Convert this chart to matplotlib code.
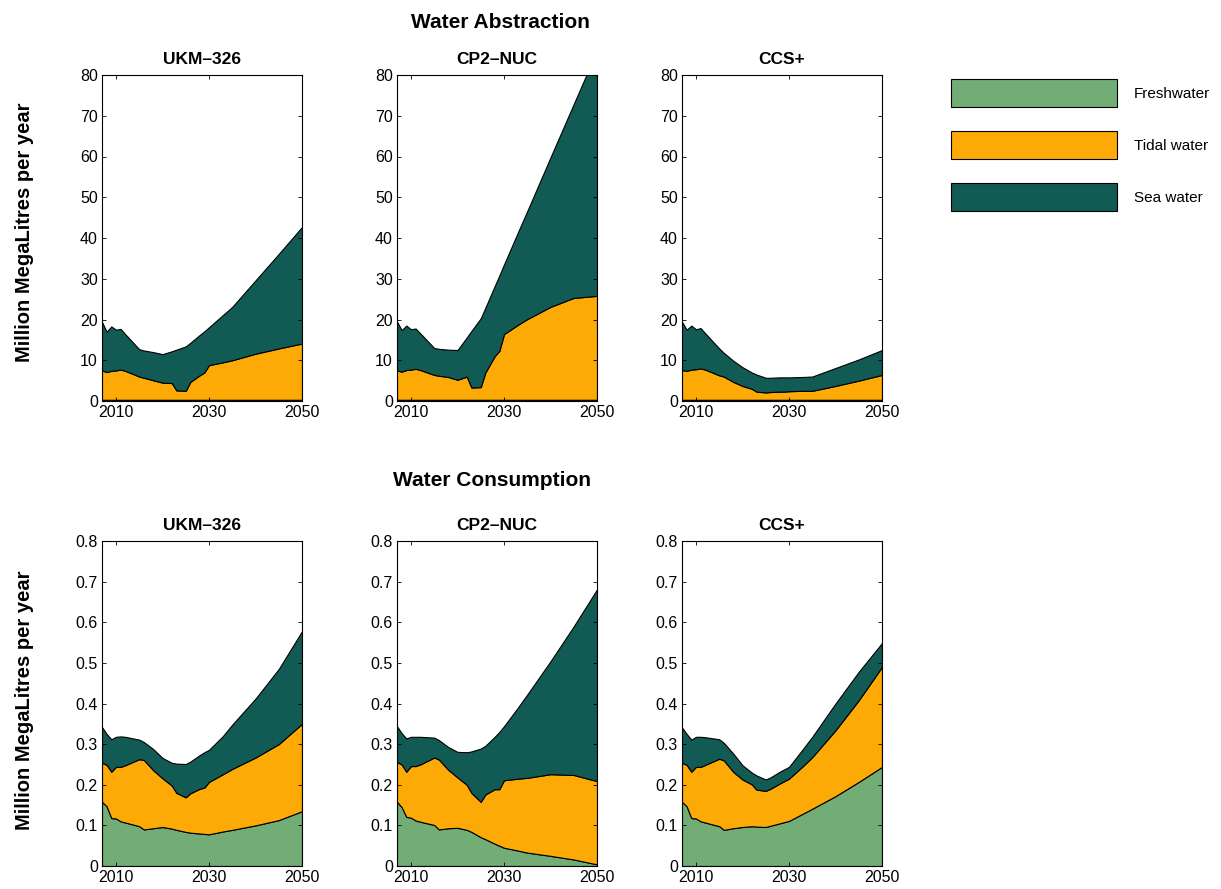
import numpy as np
import matplotlib
matplotlib.use("Agg")
import matplotlib.pyplot as plt

plt.rcParams['font.family'] = ['Liberation Sans', 'DejaVu Sans']

years = [2007, 2008, 2009, 2010, 2011, 2012, 2015, 2016, 2018, 2020, 2022,
         2023, 2025, 2026, 2028, 2029, 2030, 2033, 2035, 2040, 2045, 2050]

scenarios = ['UKM\u2013326', 'CP2\u2013NUC', 'CCS+']
layer_names = ['Freshwater', 'Tidal water', 'Sea water']
colors = ['#71ad74', '#fdaa07', '#125a54']

# abstraction: upper edge of each stacked layer (cumulative)
abs_fresh_top = {
    'UKM\u2013326': [0.3] * 22,
    'CP2\u2013NUC': [0.3] * 22,
    'CCS+': [0.3] * 22,
}
abs_tidal_top = {
    'UKM\u2013326': [7.5, 7.1, 7.4, 7.5, 7.7, 7.4, 6.0, 5.7, 5.1, 4.5, 4.4,
                     2.6, 2.5, 4.7, 6.3, 7.0, 8.8, 9.5, 10.0, 11.6, 12.9, 14.1],
    'CP2\u2013NUC': [7.5, 7.2, 7.6, 7.7, 7.9, 7.6, 6.4, 6.2, 5.9, 5.2, 6.0,
                     3.3, 3.4, 7.0, 11.0, 12.3, 16.4, 18.7, 20.1, 23.1, 25.3, 25.8],
    'CCS+': [7.6, 7.4, 7.7, 7.8, 8.0, 7.7, 6.3, 6.0, 4.7, 3.7, 3.0,
             2.3, 2.1, 2.2, 2.3, 2.3, 2.4, 2.5, 2.5, 3.7, 5.0, 6.4],
}
abs_sea_top = {
    'UKM\u2013326': [19.4, 17.0, 18.3, 17.5, 17.7, 16.4, 12.7, 12.4, 12.0, 11.5, 12.2,
                     12.6, 13.4, 14.3, 16.2, 17.1, 18.1, 21.1, 23.1, 29.6, 36.1, 42.7],
    'CP2\u2013NUC': [19.5, 17.4, 18.5, 17.6, 17.8, 16.6, 13.0, 12.8, 12.6, 12.5, 15.6,
                     17.2, 20.3, 22.9, 28.2, 30.8, 33.5, 41.4, 46.6, 59.8, 72.9, 86.0],
    'CCS+': [19.4, 17.5, 18.5, 17.6, 17.9, 16.6, 12.9, 11.8, 9.9, 8.3, 7.0,
             6.5, 5.7, 5.7, 5.8, 5.8, 5.8, 5.9, 6.0, 8.1, 10.2, 12.5],
}

# consumption: upper edge of each stacked layer (cumulative)
con_fresh_top = {
    'UKM\u2013326': [0.158, 0.147, 0.118, 0.117, 0.110, 0.107, 0.098, 0.090, 0.093, 0.096, 0.092,
                     0.089, 0.084, 0.082, 0.080, 0.079, 0.078, 0.085, 0.089, 0.100, 0.113, 0.135],
    'CP2\u2013NUC': [0.158, 0.145, 0.121, 0.119, 0.112, 0.109, 0.101, 0.090, 0.093, 0.094, 0.089,
                     0.084, 0.071, 0.066, 0.055, 0.050, 0.045, 0.038, 0.033, 0.025, 0.016, 0.004],
    'CCS+': [0.158, 0.147, 0.118, 0.117, 0.110, 0.107, 0.098, 0.089, 0.093, 0.096, 0.098,
             0.097, 0.096, 0.099, 0.105, 0.108, 0.111, 0.129, 0.141, 0.172, 0.207, 0.244],
}
con_tidal_top = {
    'UKM\u2013326': [0.254, 0.249, 0.232, 0.244, 0.244, 0.248, 0.263, 0.261, 0.236, 0.216, 0.198,
                     0.180, 0.169, 0.179, 0.190, 0.193, 0.207, 0.226, 0.239, 0.267, 0.300, 0.350],
    'CP2\u2013NUC': [0.256, 0.250, 0.232, 0.246, 0.246, 0.250, 0.267, 0.262, 0.237, 0.218, 0.200,
                     0.180, 0.158, 0.176, 0.189, 0.189, 0.211, 0.215, 0.217, 0.226, 0.224, 0.209],
    'CCS+': [0.254, 0.249, 0.232, 0.244, 0.244, 0.249, 0.264, 0.260, 0.232, 0.213, 0.201,
             0.188, 0.185, 0.190, 0.203, 0.209, 0.215, 0.246, 0.268, 0.334, 0.408, 0.490],
}
con_sea_top = {
    'UKM\u2013326': [0.342, 0.325, 0.312, 0.318, 0.319, 0.318, 0.311, 0.305, 0.288, 0.266, 0.254,
                     0.252, 0.251, 0.257, 0.273, 0.280, 0.286, 0.320, 0.348, 0.412, 0.485, 0.578],
    'CP2\u2013NUC': [0.344, 0.327, 0.314, 0.318, 0.318, 0.318, 0.316, 0.310, 0.293, 0.281, 0.280,
                     0.282, 0.289, 0.296, 0.318, 0.330, 0.344, 0.390, 0.422, 0.504, 0.590, 0.681],
    'CCS+': [0.341, 0.325, 0.311, 0.318, 0.318, 0.317, 0.312, 0.303, 0.277, 0.248, 0.230,
             0.223, 0.213, 0.218, 0.232, 0.238, 0.244, 0.288, 0.318, 0.400, 0.478, 0.549],
}

W, H = 1221, 889
fig = plt.figure(figsize=(W / 100, H / 100), dpi=100)

col_left = [102, 397, 682]
ax_w = 200


def make_ax(left, top, bottom):
    return fig.add_axes([left / W, 1 - bottom / H, ax_w / W, (bottom - top) / H])


handles = None
for row, (tops, ymax, yticks, top_px, bot_px) in enumerate([
        ((abs_fresh_top, abs_tidal_top, abs_sea_top), 80, np.arange(0, 81, 10), 75, 401),
        ((con_fresh_top, con_tidal_top, con_sea_top), 0.8, np.arange(0, 0.81, 0.1), 541, 866)]):
    for c, sc in enumerate(scenarios):
        ax = make_ax(col_left[c], top_px, bot_px)
        lower = np.zeros(len(years))
        hs = []
        for k in range(3):
            upper = np.array(tops[k][sc])
            h = ax.fill_between(years, lower, upper, facecolor=colors[k],
                                edgecolor='black', linewidth=0.8, label=layer_names[k])
            hs.append(h)
            lower = upper
        handles = hs
        ax.set_xlim(2007, 2050)
        ax.set_ylim(0, ymax)
        ax.set_xticks([2010, 2030, 2050])
        ax.set_yticks(yticks)
        if row == 0:
            ax.set_yticklabels([str(int(v)) for v in yticks])
        else:
            ax.set_yticklabels(['0'] + ['%.1f' % v for v in yticks[1:]])
        ax.tick_params(direction='in', top=True, right=True, labelsize=11.5,
                       length=3, width=0.6, pad=3)
        for s in ax.spines.values():
            s.set_linewidth(0.8)
        ax.set_title(sc, fontsize=12.5, fontweight='bold', pad=8)

fig.text(500 / W, 1 - 22 / H, 'Water Abstraction', ha='center', va='center',
         fontsize=15, fontweight='bold')
fig.text(492 / W, 1 - 480 / H, 'Water Consumption', ha='center', va='center',
         fontsize=15, fontweight='bold')
fig.text(25 / W, 1 - 232 / H, 'Million MegaLitres per year', ha='center', va='center',
         rotation=90, fontsize=14.5, fontweight='bold')
fig.text(25 / W, 1 - 700 / H, 'Million MegaLitres per year', ha='center', va='center',
         rotation=90, fontsize=14.5, fontweight='bold')

# legend handles: box 166x28 px, 24 px gap between boxes
fs = 11
px_per_fs = fs * 100 / 72
hh = (28 / px_per_fs - 0.245) / 0.65
fig.legend(handles, layer_names, loc='upper left',
           bbox_to_anchor=(951 / W, 1 - 79 / H), frameon=False, fontsize=fs,
           borderpad=0, borderaxespad=0,
           handlelength=166 / px_per_fs, handleheight=hh,
           labelspacing=24 / px_per_fs, handletextpad=17 / px_per_fs)

fig.savefig('out.png', dpi=100)
